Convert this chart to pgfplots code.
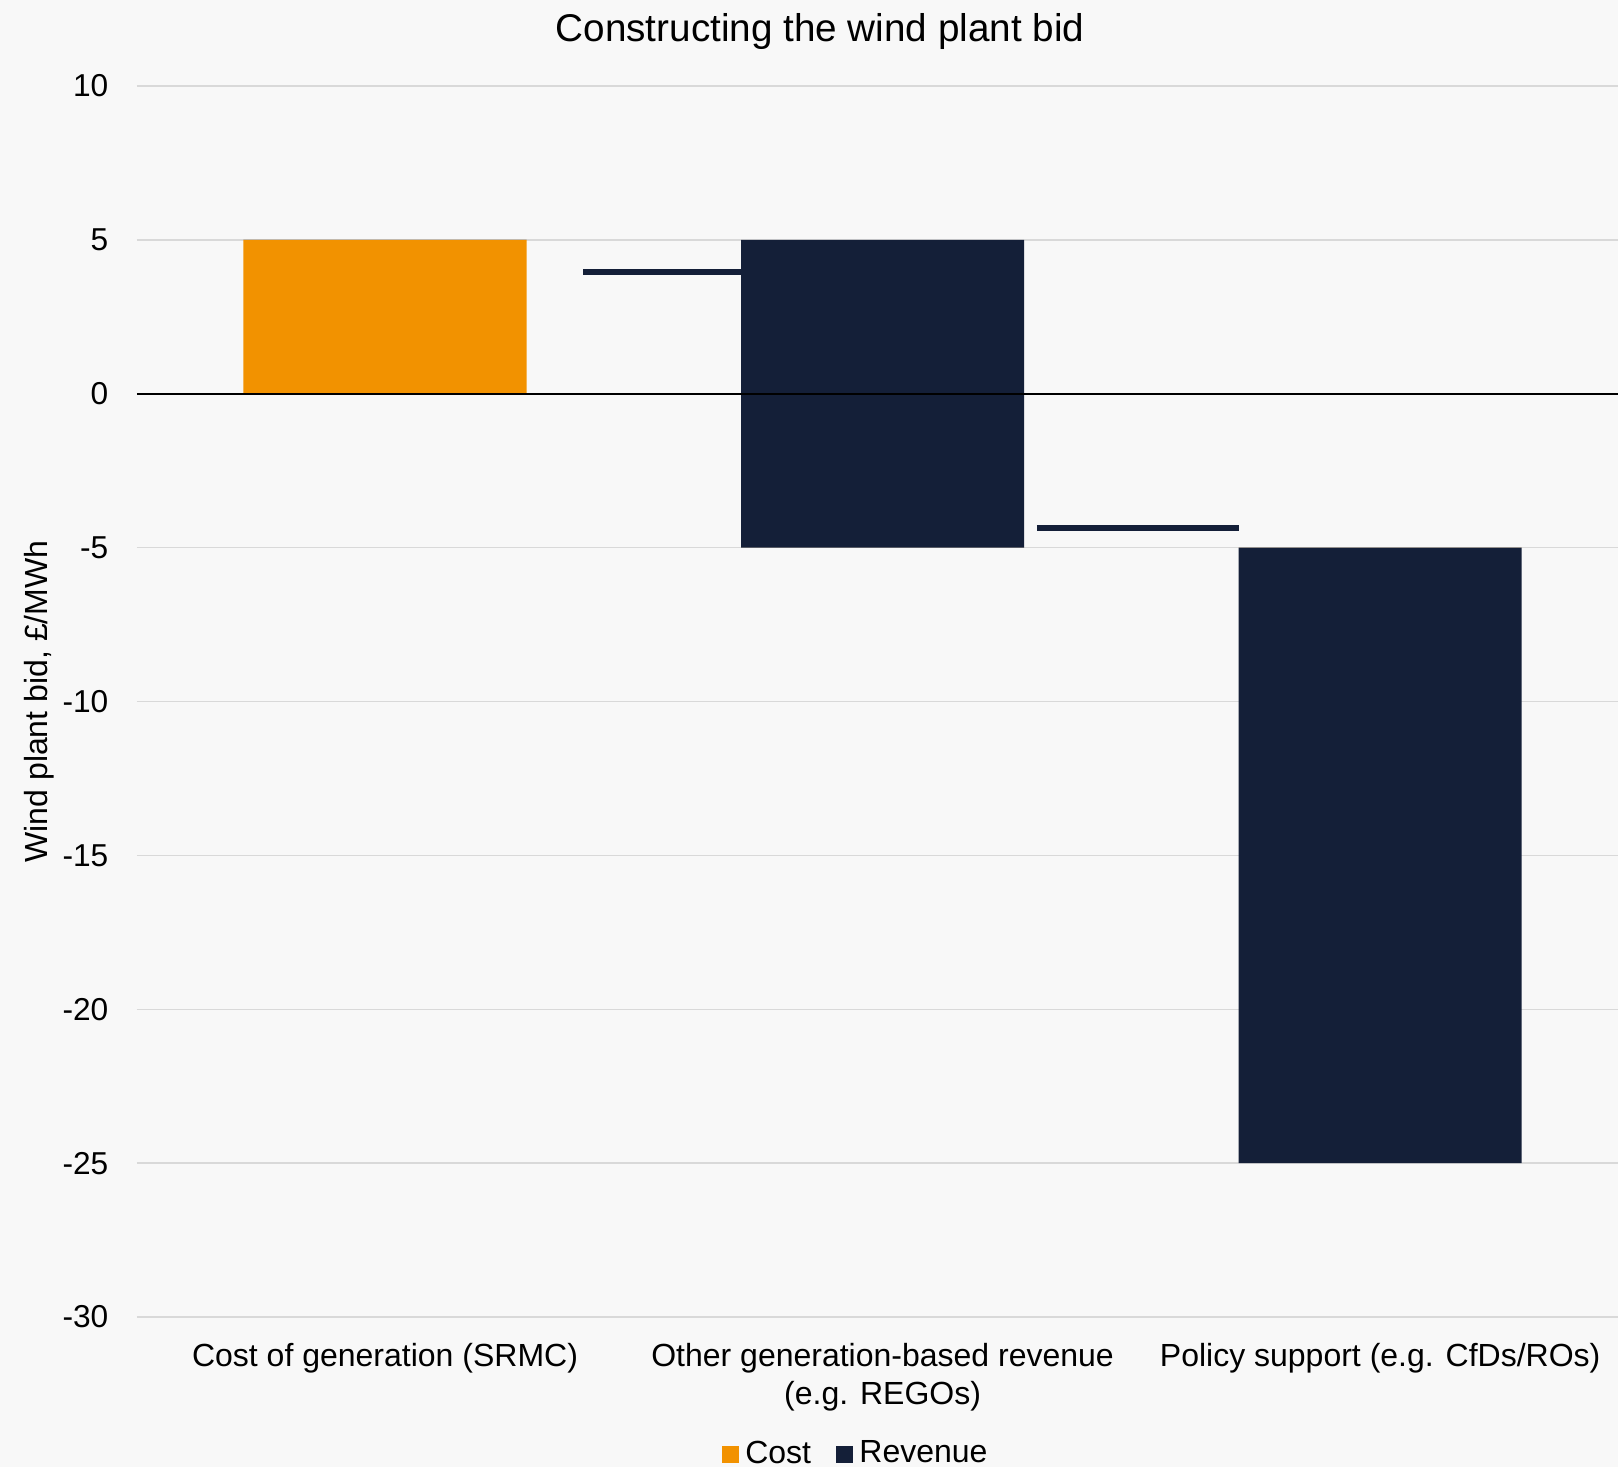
\documentclass[border=0pt]{standalone}
\usepackage{pgfplots}
\pgfplotsset{compat=1.18}
\usepackage{fontspec}
\setmainfont{Liberation Sans}
\definecolor{bg}{HTML}{F8F8F8}
\definecolor{costc}{HTML}{F29200}
\definecolor{revc}{HTML}{141F38}
\definecolor{gridc}{HTML}{D9D9D9}

\begin{document}
\begin{tikzpicture}
\path[use as bounding box, fill=bg] (-41.1pt,-45pt) rectangle (444.3pt,395.1pt);
\begin{axis}[
  scale only axis,
  width=444.3pt, height=369.3pt,
  xmin=-0.4985, xmax=2.478,
  ymin=-30, ymax=10,
  ytick={-30,-25,...,10},
  xtick={0,1,2},
  xticklabels={Cost of generation (SRMC), {Other generation-based revenue\\(e.g. REGOs)}, Policy support (e.g. CfDs/ROs)},
  xticklabel style={align=center, font=\fontsize{9.6}{11.4}\selectfont, inner sep=0pt, yshift=-7.6pt},
  yticklabel style={font=\fontsize{9.5}{11.4}\selectfont, inner sep=0pt, xshift=-8.4pt},
  /pgf/number format/assume math mode=true,
  major tick length=0pt,
  tick style={draw=none},
  axis line style={draw=none},
  ymajorgrids,
  grid style={gridc, line width=0.45pt},
  title={Constructing the wind plant bid},
  every axis title shift=0pt,
  title style={at={(rel axis cs:0.4612,1)}, anchor=center, yshift=16.4pt, font=\fontsize{11.6}{13}\selectfont},
  ylabel={Wind plant bid, £/MWh},
  every axis y label/.style={at={(rel axis cs:0,0.5)}, xshift=-29.4pt, rotate=90, anchor=center, font=\fontsize{9.6}{11}\selectfont},
  legend style={at={(rel axis cs:0.4869,0)}, anchor=center, yshift=-41.2pt, draw=none, fill=none,
    font=\fontsize{9.6}{11}\selectfont, legend columns=-1,
    /tikz/every even column/.append style={column sep=5.5pt}},
  legend image code/.code={\fill[#1] (0pt,-2.5pt) rectangle (5pt,2.5pt);},
]
% connectors between the steps
\addplot[revc, line width=1.8pt, forget plot] coordinates {(0.398,3.95) (0.7155,3.95)};
\addplot[revc, line width=1.8pt, forget plot] coordinates {(1.31,-4.36) (1.7155,-4.36)};
% invisible base of each floating bar
\addplot[ybar, bar width=0.569, bar shift=0pt, stack plots=y, draw=none, fill=none, forget plot]
  coordinates {(0,0) (1,-5) (2,-5)};
\addplot[ybar, bar width=0.569, bar shift=0pt, stack plots=y, draw=none, fill=costc]
  coordinates {(0,5) (1,0) (2,0)};
\addlegendentry{Cost}
\addplot[ybar, bar width=0.569, bar shift=0pt, stack plots=y, draw=none, fill=revc]
  coordinates {(0,0) (1,10) (2,-20)};
\addlegendentry{Revenue}
\draw[black, line width=0.7pt] (axis cs:-0.4985,0) -- (axis cs:2.478,0);
\end{axis}
\end{tikzpicture}
\end{document}
